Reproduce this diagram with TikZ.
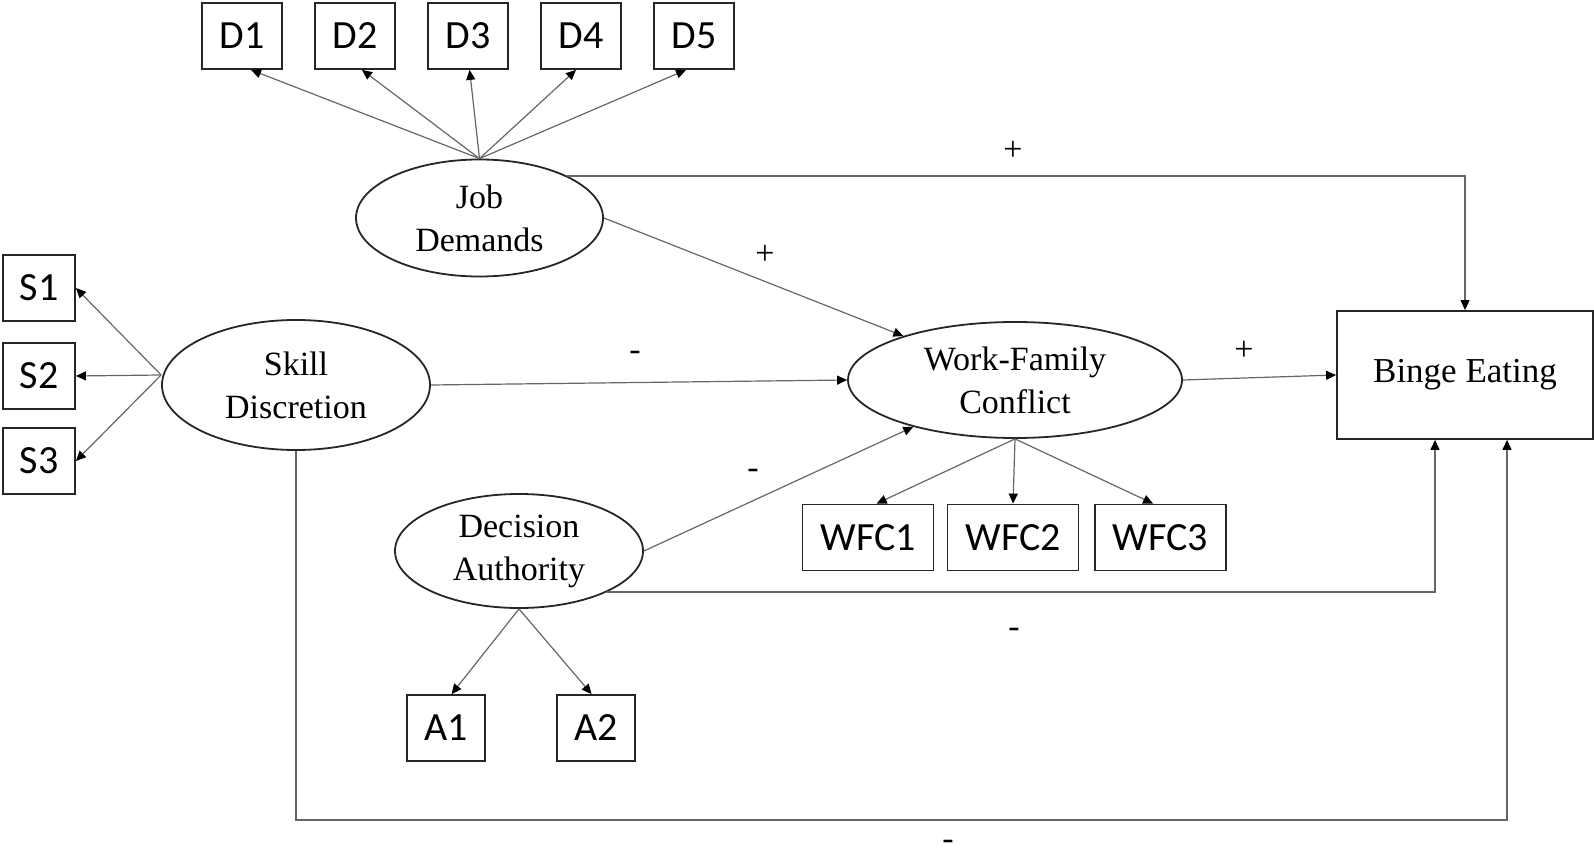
\documentclass[tikz,border=0pt]{standalone}
\usepackage{fontspec}
\setmainfont{Liberation Serif}
\newfontfamily\itemfont{Carlito}
\usetikzlibrary{shapes.geometric,arrows.meta}

\begin{document}
\begin{tikzpicture}[x=0.5pt,y=-0.5pt,
    latent/.style={draw=black!85,line width=0.9pt,ellipse,inner sep=1pt,align=center,font=\fontsize{17}{21.5}\selectfont},
    item/.style={draw=black!85,line width=0.9pt,inner sep=0pt,minimum height=33pt,font=\itemfont\fontsize{20}{24}\selectfont},
    arr/.style={draw=black!60,line width=0.6pt,-{Triangle[length=5pt,width=4.5pt,color=black]}},
    sign/.style={inner sep=0pt,font=\fontsize{17}{20}\selectfont}]
    \useasboundingbox (0,0) rectangle (1594,860);

    \node[latent,minimum width=123.5pt,minimum height=58.5pt] (jd) at (479.5,218) {Job\\Demands};
    \node[latent,minimum width=134pt,minimum height=65pt] (sd) at (296,385) {Skill\\Discretion};
    \node[latent,minimum width=167pt,minimum height=58pt] (wfc) at (1015,380) {Work-Family\\Conflict};
    \node[latent,minimum width=124pt,minimum height=57pt] (da) at (519,551) {Decision\\Authority};
    \node[draw=black!85,line width=0.9pt,minimum width=128pt,minimum height=64pt,font=\fontsize{17.5}{20}\selectfont] (be) at (1465,375) {Binge Eating};

    \foreach \i in {1,...,5}
        \node[item,minimum width=40pt] (d\i) at ({242+113*(\i-1)},36) {D\i};
    \foreach \i/\y in {1/288,2/376,3/461}
        \node[item,minimum width=36pt] (s\i) at (39,\y) {S\i};
    \foreach \i/\x in {1/868,2/1013,3/1160.5}
        \node[item,minimum width=65.5pt] (wfc\i) at (\x,537.5) {WFC\i};
    \foreach \i/\x in {1/446,2/596}
        \node[item,minimum width=39pt] (a\i) at (\x,728) {A\i};

    \foreach \i/\s in {1/4.5,2/3.5,3/0.8,4/-2.5,5/-4}
        \draw[arr] (jd.north) -- ([xshift=\s pt]d\i.south);
    \foreach \i in {1,2,3}
        \draw[arr] ([yshift=5pt]sd.west) -- (s\i.east);
    \foreach \i/\s in {1/4.3,2/0,3/-3.7}
        \draw[arr] (wfc.south) -- ([xshift=\s pt]wfc\i.north);
    \foreach \i/\s in {1/2.8,2/-2.2}
        \draw[arr] (da.south) -- ([xshift=\s pt]a\i.north);

    \draw[arr] (jd.east) -- (wfc);
    \draw[arr] (sd.east) -- (wfc.west);
    \draw[arr] (da.east) -- (wfc);
    \draw[arr] (wfc.east) -- (be.west);
    \draw[arr] (jd.north east) -| (be.north);
    \draw[arr] (da.south east) -| ([xshift=-15pt]be.south);
    \coordinate (sdbe) at (1507,820);
    \draw[arr] (sd.south) |- (sdbe) -- (sdbe |- be.south);

    \node[sign] (jdbe) at (1013,151) {+};
    \node[sign] (jdwfc) at (765,255) {+};
    \node[sign] (sdwfc) at (635,356) {-};
    \node[sign] (wfcbe) at (1244,351) {+};
    \node[sign] (dawfc) at (753,474) {-};
    \node[sign] (dabe) at (1014,633) {-};
    \node[sign] (sdbelbl) at (948,845) {-};
\end{tikzpicture}
\end{document}
